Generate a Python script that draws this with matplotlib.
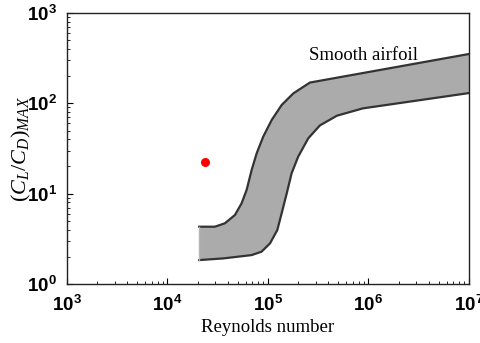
import matplotlib
matplotlib.use("Agg")
import matplotlib.pyplot as plt
from matplotlib.ticker import LogLocator, FuncFormatter
import numpy as np

# serif italic for the axis symbol, bold sans for the decade labels
plt.rcParams['mathtext.fontset'] = 'custom'
plt.rcParams['mathtext.rm'] = 'Liberation Serif'
plt.rcParams['mathtext.it'] = 'Liberation Serif:italic'
plt.rcParams['mathtext.bf'] = 'Liberation Sans:bold'

# upper edge of the smooth airfoil band
re_upper = [2.07e4, 2.97e4, 3.73e4, 4.70e4, 5.47e4, 6.14e4, 6.89e4, 7.73e4,
            8.98e4, 1.09e5, 1.37e5, 1.79e5, 2.62e5, 1.0e7]
cl_cd_upper = [4.31, 4.31, 4.70, 5.81, 7.82, 11.0, 18.3, 28.0,
               42.8, 65.4, 95.9, 129, 170, 352]

# lower edge of the band
re_lower = [2.07e4, 3.59e4, 6.89e4, 8.65e4, 1.05e5, 1.24e5, 1.37e5, 1.54e5,
            1.72e5, 2.00e5, 2.52e5, 3.29e5, 4.86e5, 8.8e5, 1.0e7]
cl_cd_lower = [1.84, 1.92, 2.09, 2.28, 2.82, 3.96, 6.07, 10.1,
               16.8, 25.7, 41.0, 57.0, 73.0, 88.0, 130]

# single measured point
re_point = [2.36e4]
cl_cd_point = [22.4]

fig = plt.figure(figsize=(4.81, 3.43), dpi=100)
ax = fig.add_axes([0.139, 0.172, 0.836, 0.790])

ax.fill(re_upper + re_lower[::-1], cl_cd_upper + cl_cd_lower[::-1],
        color='#ababab', lw=0)
ax.plot(re_upper, cl_cd_upper, color='#333333', lw=1.6, solid_joinstyle='round')
ax.plot(re_lower, cl_cd_lower, color='#333333', lw=1.6, solid_joinstyle='round')
ax.plot([re_upper[0], re_lower[0]], [cl_cd_upper[0], cl_cd_lower[0]],
        color='#b5b5b5', lw=1.0)

ax.plot(re_point, cl_cd_point, 'o', color='red', ms=6.5, mec='none')

ax.set_xscale('log')
ax.set_yscale('log')
ax.set_xlim(1e3, 1e7)
ax.set_ylim(1e0, 1e3)

ax.xaxis.set_major_locator(LogLocator(base=10, numticks=10))
ax.yaxis.set_major_locator(LogLocator(base=10, numticks=10))
ax.xaxis.set_minor_locator(LogLocator(base=10, subs=np.arange(2, 10), numticks=10))
ax.yaxis.set_minor_locator(LogLocator(base=10, subs=np.arange(2, 10), numticks=10))

fmt = FuncFormatter(lambda v, p: r'$\mathbf{10^{%d}}$' % round(np.log10(v)))
ax.xaxis.set_major_formatter(fmt)
ax.yaxis.set_major_formatter(fmt)

ax.tick_params(which='both', direction='in', top=False, right=False)
ax.tick_params(which='major', length=4, width=0.8, labelsize=13.5)
ax.tick_params(axis='x', which='major', pad=8)
ax.tick_params(axis='y', which='major', pad=7)
ax.tick_params(which='minor', length=2, width=0.6)

for sp in ax.spines.values():
    sp.set_linewidth(1.0)
    sp.set_color('#222222')

ax.set_xlabel('Reynolds number', family='Liberation Serif', fontsize=13.5, labelpad=3)
ax.set_ylabel(r'$(C_L/C_D)_{MAX}$', fontsize=16, labelpad=-4)

ax.text(9.0e5, 343, 'Smooth airfoil', family='Liberation Serif', fontsize=13.5,
        ha='center', va='center')

fig.savefig('out.png', dpi=100)
